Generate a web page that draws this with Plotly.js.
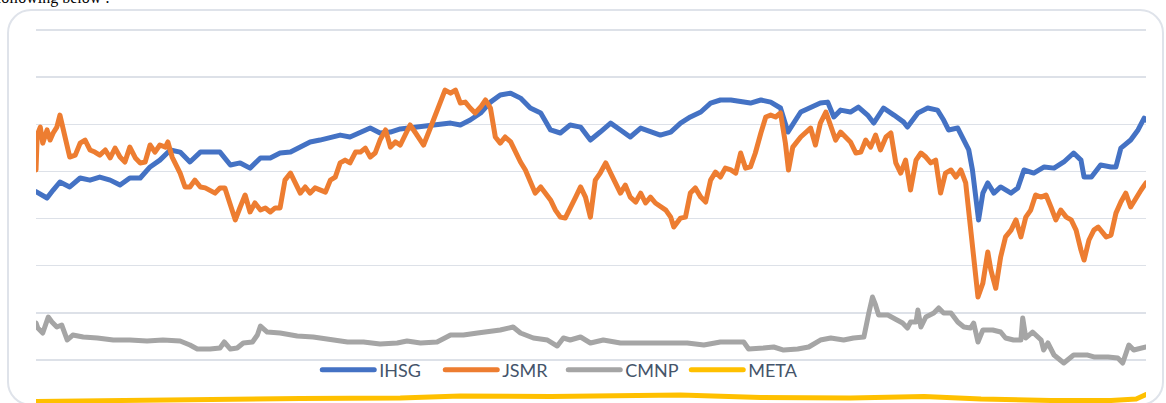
<!DOCTYPE html>
<html><head><meta charset="utf-8">
<script src="https://cdn.plot.ly/plotly-3.0.1.min.js"></script>
<style>
html,body{margin:0;padding:0;background:#fff;overflow:hidden}
#frame{position:absolute;left:7px;top:9px;width:1157px;height:397px;border:2px solid #dfe3ea;border-radius:24px;box-sizing:border-box}
#chart{position:absolute;left:0;top:0;width:1166px;height:403px}
.scatterlayer path.js-line{stroke-linejoin:round;stroke-linecap:round}
.legendlines path.js-line{stroke-linecap:round}
</style></head><body>
<div id="frame"></div><div id="chart"></div>
<script>
// Series names and colours
const seriesNames = ['IHSG', 'JSMR', 'CMNP', 'META'];
const seriesColors = ['#4472C4', '#ED7D31', '#A5A5A5', '#FFC000'];
const startDate = '2016-01-04';

// Days since startDate, and closing values
const ihsgDay = [0,18,28,39,55,72,88,104,121,137,153,170,186,202,219,235,251,268,284,300,317,333,349,366,382,398,415,431,447,463,480,496,512,529,545,561,578,594,610,643,676,692,708,725,741,757,774,790,806,823,839,855,871,888,904,920,937,953,969,986,1002,1018,1035,1051,1067,1084,1100,1116,1133,1149,1165,1182,1198,1214,1226,1247,1263,1279,1291,1301,1312,1328,1341,1356,1366,1382,1399,1415,1421,1438,1454,1470,1480,1488,1503,1513,1521,1527,1532,1537,1544,1552,1562,1573,1590,1601,1611,1627,1644,1660,1676,1692,1704,1709,1721,1736,1753,1761,1769,1785,1797,1807,1810];
const ihsgVal = [4570,4435,4605,4775,4670,4860,4815,4880,4815,4710,4860,4860,5095,5240,5455,5410,5200,5410,5410,5410,5135,5180,5070,5285,5285,5390,5410,5515,5625,5665,5710,5770,5730,5815,5920,5815,5835,5900,5920,5985,6025,5985,6090,6240,6470,6620,6660,6555,6345,6240,5880,5815,5985,5940,5665,5835,6025,5880,5730,5920,5835,5770,5835,6025,6155,6260,6450,6515,6515,6470,6450,6515,6470,6345,5835,6260,6365,6450,6470,6155,6300,6260,6365,6195,6025,6345,6195,6045,5940,6240,6345,6300,6090,5880,5920,5665,5455,5030,4540,3970,4540,4755,4540,4670,4540,4650,5030,4965,5095,5070,5200,5390,5240,4880,4880,5135,5095,5095,5495,5665,5880,6130,6090];

const jsmrDay = [0,2,7,11,18,23,28,34,39,44,51,55,64,72,80,88,96,104,113,121,129,137,145,153,162,170,178,186,194,202,211,215,222,235,243,251,259,268,276,284,292,300,308,317,325,333,341,349,357,366,374,382,390,398,406,415,423,431,439,447,455,463,472,480,488,496,504,512,521,529,537,545,553,561,570,578,586,594,610,619,632,643,651,659,667,676,684,692,700,708,716,725,733,741,749,757,765,774,782,790,798,806,814,823,831,839,847,855,863,871,880,888,896,904,912,920,929,937,945,953,961,969,978,986,994,1002,1010,1018,1027,1035,1040,1051,1059,1067,1075,1084,1092,1100,1108,1116,1124,1133,1141,1149,1157,1165,1173,1182,1190,1198,1206,1214,1222,1227,1234,1247,1263,1271,1279,1288,1296,1304,1312,1320,1328,1337,1345,1353,1361,1369,1377,1386,1394,1402,1410,1418,1426,1435,1443,1451,1459,1467,1475,1483,1492,1500,1508,1516,1524,1529,1536,1544,1552,1557,1565,1573,1581,1590,1598,1606,1614,1622,1630,1639,1647,1655,1663,1671,1680,1688,1696,1704,1709,1717,1725,1732,1736,1745,1753,1761,1769,1777,1785,1794,1802,1810];
const jsmrVal = [5030,5770,5940,5600,5880,5665,5815,5940,6195,5880,5455,5305,5345,5600,5665,5455,5410,5345,5455,5285,5495,5305,5200,5515,5285,5180,5200,5560,5410,5560,5515,5625,5305,4965,4670,4670,4815,4670,4650,4605,4540,4650,4650,4285,3970,4245,4500,4140,4330,4180,4225,4140,4225,4225,4815,4965,4755,4540,4670,4540,4650,4605,4560,4815,4880,5180,5240,5180,5410,5410,5495,5305,5390,5665,5880,5515,5625,5560,5985,5815,5560,5920,6195,6450,6725,6660,6725,6450,6470,6345,6240,6365,6515,6345,5730,5600,5730,5625,5390,5200,5030,4755,4540,4670,4540,4395,4180,4030,4010,4245,4455,4670,4455,4030,4815,4965,5180,4965,4755,4540,4710,4455,4350,4540,4330,4455,4330,4245,4180,4030,3820,4010,4030,4540,4650,4455,4350,4815,4985,4880,5070,5030,4965,5390,5070,5095,5390,5815,6155,6195,6155,6240,5600,5030,5515,5730,5920,5560,6025,6260,5940,5665,5835,5730,5625,5390,5410,5665,5515,5770,5455,5730,5815,5180,4965,5240,4605,5240,5390,5305,5180,5240,4540,4965,5030,4880,5030,4755,3820,3120,2335,2630,3290,2910,2520,3185,3610,3755,3970,3610,4030,4180,4500,4455,4500,4245,3970,4180,4030,3970,3755,3330,3120,3545,3755,3820,3755,3610,3650,4115,4350,4540,4245,4455,4605,4755];

const cmnpDay = [0,3,11,20,26,34,42,51,60,77,100,126,153,181,207,235,251,263,284,300,307,317,328,338,353,361,366,377,398,426,452,480,508,534,561,589,605,627,654,676,697,720,741,757,778,790,811,834,850,860,871,888,904,925,953,981,1007,1035,1062,1089,1116,1154,1162,1186,1203,1219,1242,1260,1279,1296,1317,1333,1350,1358,1364,1369,1374,1389,1402,1413,1421,1426,1435,1438,1443,1451,1464,1472,1480,1492,1503,1513,1524,1529,1536,1544,1560,1573,1581,1594,1606,1609,1614,1625,1639,1643,1650,1660,1676,1692,1715,1725,1748,1764,1772,1782,1790,1807,1810];
const cmnpVal = [1785,1678,1572,1911,1805,1699,1741,1423,1529,1487,1466,1423,1423,1402,1423,1402,1317,1232,1232,1253,1381,1232,1253,1360,1381,1529,1720,1593,1572,1508,1487,1423,1381,1381,1338,1360,1402,1360,1381,1529,1529,1572,1593,1635,1699,1572,1466,1423,1296,1466,1423,1487,1360,1423,1360,1360,1360,1381,1360,1317,1381,1381,1232,1253,1275,1211,1232,1275,1423,1466,1423,1466,1487,1996,2335,2166,1953,1953,1847,1784,1678,1805,1805,2059,1699,1911,1996,2102,1996,1996,1805,1699,1678,1784,1381,1635,1635,1593,1466,1423,1423,1890,1466,1593,1423,1211,1360,1105,935,1105,1105,1063,1063,1041,935,1317,1211,1275,1275];

const metaDay = [0,104,268,431,594,627,692,839,953,1051,1182,1328,1448,1541,1655,1753,1794,1810];
const metaVal = [120,140,172,182,193,214,235,225,246,257,204,193,225,172,140,140,172,265];

const seriesDays = [ihsgDay, jsmrDay, cmnpDay, metaDay];
const seriesVals = [ihsgVal, jsmrVal, cmnpVal, metaVal];

function toDate(d) {
  const t = Date.parse(startDate + 'T00:00:00Z') + d * 86400000;
  return new Date(t).toISOString().slice(0, 10);
}

const traces = seriesNames.map((name, i) => ({
  type: 'scatter', mode: 'lines', name: name,
  x: seriesDays[i].map(toDate), y: seriesVals[i],
  line: {color: seriesColors[i], width: 5},
  hoverinfo: 'x+y+name'
}));

const layout = {
  width: 1166, height: 403,
  margin: {l: 36, r: 20, t: 20, b: 0, pad: 0},
  paper_bgcolor: 'rgba(0,0,0,0)', plot_bgcolor: 'rgba(0,0,0,0)',
  showlegend: true,
  legend: {
    orientation: 'h', x: 0.475, xanchor: 'center', y: 0.086, yanchor: 'middle',
    bgcolor: 'rgba(0,0,0,0)', itemwidth: 52,
    entrywidthmode: 'pixels', entrywidth: 56,
    font: {family: 'Lato, sans-serif', size: 18, color: '#44546A'}
  },
  xaxis: {
    type: 'date', range: [toDate(0), toDate(1810)],
    showgrid: false, zeroline: false, showline: false, showticklabels: false, ticks: ''
  },
  yaxis: {
    range: [87, 8212], dtick: 1000, tick0: 0,
    showgrid: true, gridcolor: '#dde1e8', gridwidth: 1.5,
    zeroline: false, showline: false, showticklabels: false, ticks: ''
  },
  annotations: [{
    text: 'following below :', xref: 'paper', yref: 'paper',
    x: -0.038, y: 1.058, xanchor: 'left', yanchor: 'middle', showarrow: false,
    font: {family: '"Liberation Serif", serif', size: 16, color: '#000'}
  }]
};

Plotly.newPlot('chart', traces, layout, {staticPlot: true, displayModeBar: false});
</script>
</body></html>
